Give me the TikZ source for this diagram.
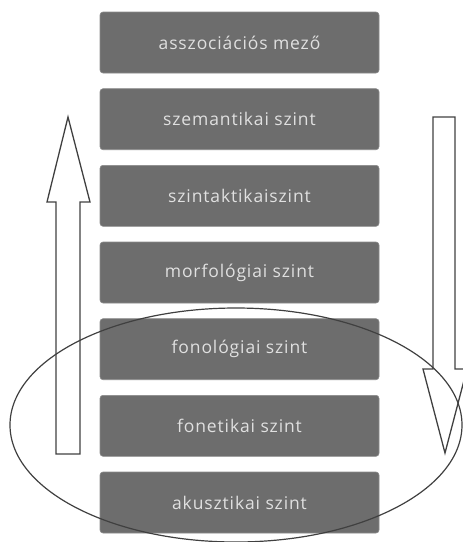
\documentclass[tikz,border=0pt]{standalone}
\usepackage{fontspec}
\setmainfont{Open Sans}[LetterSpace=5]
\definecolor{boxgray}{HTML}{6D6D6D}
\definecolor{txtgray}{HTML}{E0E0E0}
\definecolor{linegray}{HTML}{404040}
\begin{document}
\begin{tikzpicture}[x=1pt,y=-1pt,
  level/.style={draw=boxgray!80!white, line width=0.6pt, fill=boxgray, rounded corners=3pt,
    minimum width=279pt, minimum height=61pt, inner sep=0pt,
    text=txtgray, font=\fontsize{17.5}{19}\selectfont},
  outline/.style={draw=linegray, line width=1.3pt, line join=miter}]
\useasboundingbox (0,0) rectangle (463,542);
\node[level] (l1) at (239.5,42.5) {asszociációs mező};
\node[level] (l2) at (239.5,119.2) {szemantikai szint};
\node[level] (l3) at (239.5,195.8) {szintaktikaiszint};
\node[level] (l4) at (239.5,272.5) {morfológiai szint};
\node[level] (l5) at (239.5,349.2) {fonológiai szint};
\node[level] (l6) at (239.5,425.8) {fonetikai szint};
\node[level] (l7) at (239.5,502.5) {akusztikai szint};
% up arrow
\draw[outline] (68,117) -- (90,202) -- (80,202) -- (80,454) -- (56,454) -- (56,202) -- (47,202) -- cycle;
% down arrow
\draw[outline] (433,117) -- (455,117) -- (455,369) -- (467,369) -- (445,453) -- (423,369) -- (433,369) -- cycle;
% ellipse
\draw[outline, line width=1.2pt] (236,425) ellipse [x radius=226, y radius=117];
\end{tikzpicture}
\end{document}
